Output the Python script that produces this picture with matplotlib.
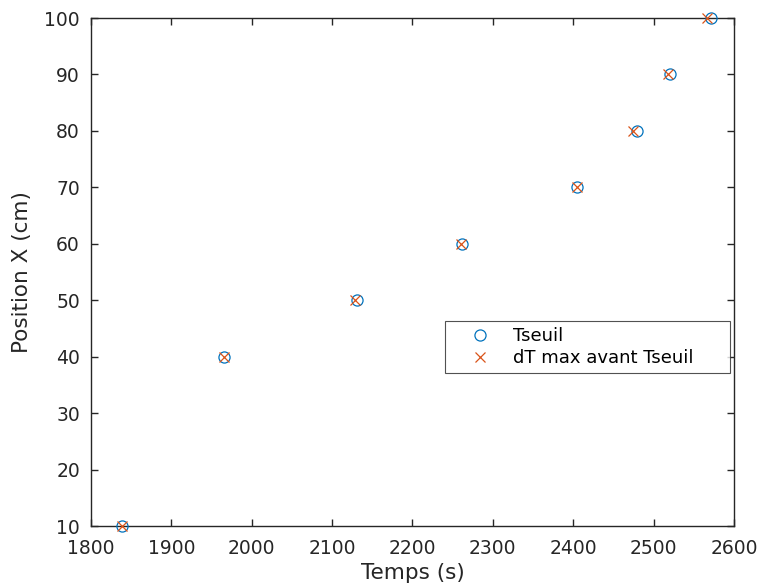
import matplotlib
matplotlib.use("Agg")
import matplotlib.pyplot as plt

# Position along the bar (cm)
positions = [10, 40, 50, 60, 70, 80, 90, 100]
# Threshold crossing times (s)
t_seuil = [1839, 1966, 2131, 2262, 2405, 2479, 2520, 2572]
# Time of maximum dT before threshold (s)
t_dtmax = [1838, 1965, 2129, 2260, 2405, 2474, 2518, 2567]

blue = "#0072BD"
orange = "#D95319"
axcol = "#262626"

plt.rcParams["font.family"] = ["DejaVu Sans"]

fig = plt.figure(figsize=(7.64, 5.87), dpi=100)
ax = fig.add_axes([0.1191, 0.1039, 0.8416, 0.8654])

ax.plot(t_seuil, positions, linestyle="none", marker="o", markersize=8,
        markerfacecolor="none", markeredgecolor=blue, markeredgewidth=0.9,
        label="Tseuil", clip_on=False, zorder=3)
ax.plot(t_dtmax, positions, linestyle="none", marker="x", markersize=7,
        color=orange, markeredgewidth=0.9,
        label="dT max avant Tseuil", clip_on=False, zorder=4)

ax.set_xlim(1800, 2600)
ax.set_ylim(10, 100)
ax.set_xticks(range(1800, 2601, 100))
ax.set_yticks(range(10, 101, 10))

for sp in ax.spines.values():
    sp.set_color(axcol)
    sp.set_linewidth(1.0)
ax.tick_params(direction="in", length=5, width=1.0, colors=axcol,
               labelsize=13.5, top=True, right=True)
ax.tick_params(axis="x", pad=9)
ax.tick_params(axis="y", pad=8)
for lab in ax.get_xticklabels() + ax.get_yticklabels():
    lab.set_color(axcol)

ax.set_xlabel("Temps (s)", fontsize=15.5, color=axcol, labelpad=4)
ax.set_ylabel("Position X (cm)", fontsize=15.5, color=axcol, labelpad=9)

leg = ax.legend(loc="center", bbox_to_anchor=(0.5505, 0.302, 0.4433, 0.1),
                mode="expand", fontsize=13, frameon=True, fancybox=False,
                edgecolor=axcol, borderpad=0.35, labelspacing=0.2,
                handletextpad=0.2, borderaxespad=0, handlelength=3.2)
leg.get_frame().set_linewidth(0.8)

fig.savefig("out.png", dpi=100)
